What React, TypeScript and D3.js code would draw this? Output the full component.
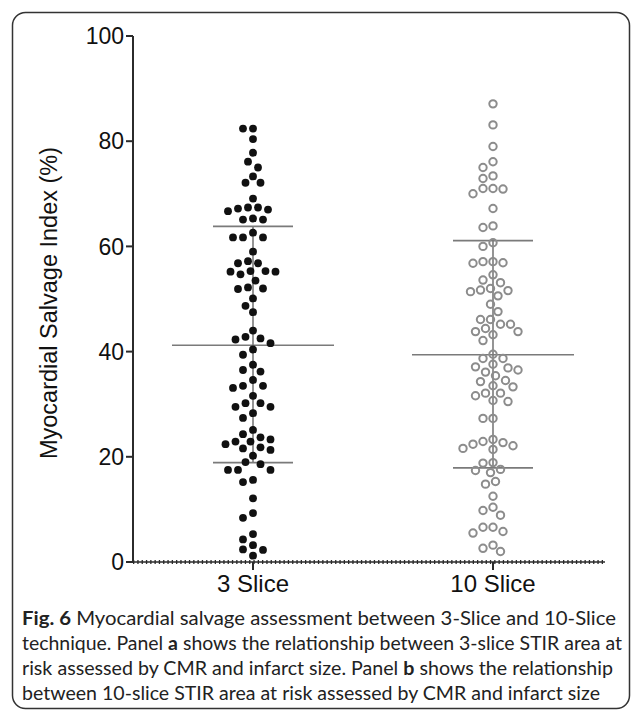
import React from "react";
import * as d3 from "d3";

const categories = ["3 Slice", "10 Slice"];

const slice3Values = [
  82.4, 82.4, 80.4, 77.8, 76.1, 75.0, 73.3, 72.1, 72.1, 69.1,
  67.0, 67.4, 67.2, 67.4, 66.7,
  65.1, 65.1, 65.3,
  61.7, 61.7, 61.7, 62.6,
  59.0,
  57.2, 56.8, 56.8,
  55.2, 55.2, 54.7, 55.3, 55.3,
  53.5,
  51.9, 52.2, 52.0,
  50.1, 48.7, 47.5, 44.0,
  42.5, 42.3, 42.8,
  41.6, 40.4,
  39.4, 37.5,
  36.5, 36.2,
  34.6,
  33.5, 33.1, 33.5,
  31.6,
  30.2, 29.5, 29.5, 30.2,
  28.3, 27.4,
  25.1, 24.3,
  23.7, 22.9, 22.4, 22.9, 23.3,
  21.8, 21.3, 20.2, 21.6,
  19.0, 18.6,
  17.5, 17.5, 17.5,
  15.6, 15.2,
  12.1,
  9.3, 8.4,
  5.3, 4.3, 3.2,
  2.4, 2.3,
  1.2,
];

const slice10Values = [
  87.1, 83.1, 79.0, 76.1, 75.0, 73.4, 72.9, 71.0, 70.0, 70.9, 71.0, 67.2,
  63.6, 63.9, 60.7, 60.0, 57.1, 56.8, 56.9, 57.1,
  54.6, 53.6, 53.1, 52.0, 51.6, 51.4, 51.7, 50.6, 49.0, 47.6,
  46.1, 45.2, 45.2, 46.1, 43.8, 44.4, 43.8, 43.2, 42.1,
  38.7, 38.7, 39.5, 37.6, 36.9, 36.1, 36.5, 37.1, 35.4, 34.3, 34.5,
  33.3, 33.5, 32.1, 30.7, 31.6, 32.1, 30.5, 27.3, 27.3,
  22.7, 22.1, 21.4, 23.3, 21.6, 22.4, 22.9,
  18.8, 18.9, 17.4, 17.0, 17.6, 14.8, 15.3, 12.5,
  10.4, 8.9, 9.8, 6.6, 5.8, 5.5, 6.6, 3.2, 2.0, 2.6,
];

const seriesValues = [slice3Values, slice10Values];
const meanValues = [41.2, 39.4];
const sdUpperValues = [63.8, 61.1];
const sdLowerValues = [18.9, 17.9];

const yTicks = [0, 20, 40, 60, 80, 100];
const yLabel = "Myocardial Salvage Index (%)";

const W = 636;
const H = 715;
const left = 133;
const top = 36;
const bottom = 562;
const right = 613;

const y = d3.scaleLinear().domain([0, 100]).range([bottom, top]);
const x = d3.scaleBand().domain(categories).range([left, right]);

function beeswarm(values: number[], cx: number, minDist: number) {
  const sorted = values.map((v, i) => ({ v, i })).sort((a, b) => b.v - a.v);
  const placed: { x: number; y: number }[] = [];
  for (const p of sorted) {
    const py = y(p.v);
    let chosen = cx;
    for (let k = 0; k < 60; k++) {
      const offs = k === 0 ? [0] : [-k * 2.5, k * 2.5];
      let ok = false;
      for (const o of offs) {
        const px = cx + o;
        const hit = placed.some(
          (q) => (q.x - px) ** 2 + (q.y - py) ** 2 < minDist * minDist
        );
        if (!hit) {
          chosen = px;
          ok = true;
          break;
        }
      }
      if (ok) break;
    }
    placed.push({ x: chosen, y: py });
  }
  return placed;
}

const captionLines = [
  [
    { t: "Fig. 6", b: true },
    { t: " Myocardial salvage assessment between 3-Slice and 10-Slice", b: false },
  ],
  [
    { t: "technique. Panel ", b: false },
    { t: "a", b: true },
    { t: " shows the relationship between 3-slice STIR area at", b: false },
  ],
  [
    { t: "risk assessed by CMR and infarct size. Panel ", b: false },
    { t: "b", b: true },
    { t: " shows the relationship", b: false },
  ],
  [{ t: "between 10-slice STIR area at risk assessed by CMR and infarct size", b: false }],
];
const captionWidths = [594, 600, 591, 578];

export default function App() {
  const axisColor = "#2b2b2b";
  const lineColor = "#7a7a7a";
  const fontAxis = "'Liberation Sans', Arial, sans-serif";
  return (
    <svg
      width={W}
      height={H}
      style={{ position: "absolute", left: 0, top: 0, background: "#fff" }}
    >
      <rect x={12.5} y={12.5} width={617} height={696} rx={13} fill="#fff" stroke="#333" strokeWidth={1.5} />

      {/* mean / SD lines */}
      {categories.map((c, i) => {
        const cx = (x(c) as number) + x.bandwidth() / 2;
        return (
          <g key={c} stroke={lineColor} strokeWidth={1.6}>
            <line x1={cx} x2={cx} y1={y(sdLowerValues[i])} y2={y(sdUpperValues[i])} />
            <line x1={cx - 81} x2={cx + 81} y1={y(meanValues[i])} y2={y(meanValues[i])} />
            <line x1={cx - 40} x2={cx + 40} y1={y(sdUpperValues[i])} y2={y(sdUpperValues[i])} />
            <line x1={cx - 40} x2={cx + 40} y1={y(sdLowerValues[i])} y2={y(sdLowerValues[i])} />
          </g>
        );
      })}

      {/* points */}
      {categories.map((c, i) => {
        const cx = (x(c) as number) + x.bandwidth() / 2;
        const pts = beeswarm(seriesValues[i], cx, 9.8);
        return (
          <g key={"p" + c}>
            {pts.map((p, j) =>
              i === 0 ? (
                <circle key={j} cx={p.x} cy={p.y} r={3.9} fill="#111" />
              ) : (
                <circle key={j} cx={p.x} cy={p.y} r={3.7} fill="none" stroke="#8c8c8c" strokeWidth={2} />
              )
            )}
          </g>
        );
      })}

      {/* y axis */}
      <line x1={left} x2={left} y1={top} y2={bottom} stroke={axisColor} strokeWidth={2} />
      {yTicks.map((t) => (
        <g key={t}>
          <line x1={left - 7} x2={left} y1={y(t)} y2={y(t)} stroke={axisColor} strokeWidth={2} />
          <text
            x={left - 9}
            y={y(t)}
            dy="0.36em"
            textAnchor="end"
            fontFamily={fontAxis}
            fontSize={23}
            fill="#111"
          >
            {t}
          </text>
        </g>
      ))}
      <text
        transform={`translate(49, 303) rotate(-90)`}
        textAnchor="middle"
        dy="0.35em"
        fontFamily={fontAxis}
        fontSize={23.5}
        fill="#111"
      >
        {yLabel}
      </text>

      {/* x axis */}
      <line x1={left} x2={right - 8} y1={bottom} y2={bottom} stroke={axisColor} strokeWidth={1.5} />
      <line
        x1={left}
        x2={right - 8}
        y1={bottom}
        y2={bottom}
        stroke={axisColor}
        strokeWidth={4}
        strokeDasharray="1.3 3"
      />
      {categories.map((c) => {
        const cx = (x(c) as number) + x.bandwidth() / 2;
        return (
          <g key={"x" + c}>
            <line x1={cx} x2={cx} y1={bottom} y2={bottom + 8} stroke={axisColor} strokeWidth={2} />
            <text
              x={cx}
              y={bottom + 30}
              textAnchor="middle"
              fontFamily={fontAxis}
              fontSize={24}
              fill="#111"
            >
              {c}
            </text>
          </g>
        );
      })}

      {/* caption */}
      {captionLines.map((line, i) => (
        <text
          key={i}
          x={22}
          y={625 + i * 25}
          fontFamily="Lato, 'Open Sans', sans-serif"
          fontSize={19.5}
          fill="#222"
          textLength={captionWidths[i]}
          lengthAdjust="spacingAndGlyphs"
        >
          {line.map((s, j) => (
            <tspan key={j} fontWeight={s.b ? 700 : 400}>
              {s.t}
            </tspan>
          ))}
        </text>
      ))}
    </svg>
  );
}
